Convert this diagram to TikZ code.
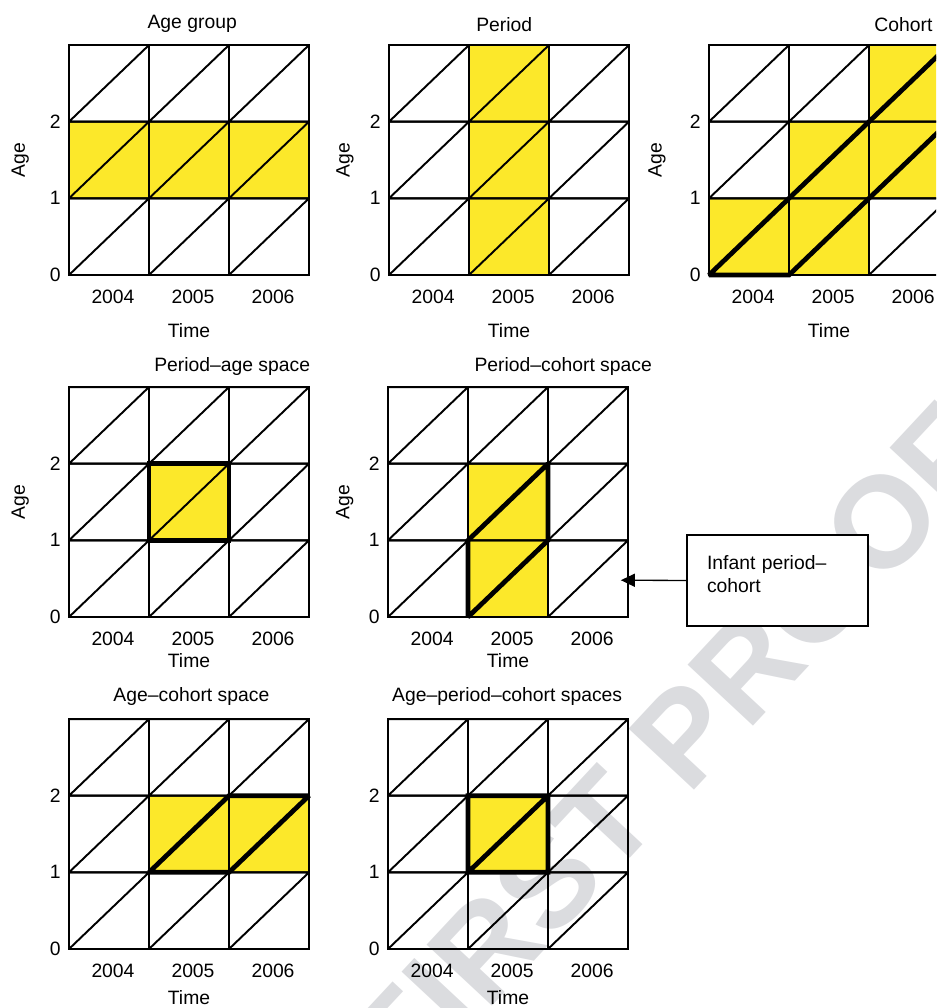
\documentclass[tikz,border=0pt]{standalone}
\usepackage{fontspec}
\setmainfont{Liberation Sans}
\usetikzlibrary{arrows.meta}

\definecolor{apcyellow}{RGB}{252,232,42}
\definecolor{proofgray}{RGB}{219,220,223}

% one Lexis grid (3 periods x 3 ages) with its axis labels
\newcommand{\lexisgrid}[2]{%
  \foreach \i in {0,1,2}
    \foreach \j in {0,1,2}
      \draw[gridline] (\i,\j) rectangle ++(1,1) (\i,\j) -- ++(1,1);
  \foreach \a in {0,1,2}
    \node[agetick] (#1-a\a) at (-0.1,\a) {\a};
  \foreach \y [count=\i from 0] in {2004,2005,2006}
    \node (#1-y\y) at (\i+0.55,-0.29) {\y};
  \node (#1-time) at (1.5,#2) {Time};
}

\begin{document}
\begin{tikzpicture}[every node/.style={font=\fontsize{11}{13}\selectfont},
  gridline/.style={line width=1.1pt},
  band/.style={fill=apcyellow},
  rim/.style={line width=2.7pt, line join=miter, miter limit=2},
  agetick/.style={anchor=east, inner sep=0pt},
  agelabel/.style={rotate=90},
  pointer/.style={-{Triangle[length=0.28cm,width=0.26cm]}, line width=0.75pt}]
  \useasboundingbox (0,0) rectangle (18.72,20.16);
  \clip (0,0) rectangle (18.72,20.16);

  \node[text=proofgray, rotate=47, font=\fontsize{74}{74}\selectfont\bfseries] (proof) at (13.46,5.22) {FIRST PROOF};

  % age group
  \begin{scope}[shift={(1.38cm,14.66cm)}, x=1.6cm, y=1.533cm]
    \fill[band] (0,1) rectangle (3,2);
    \lexisgrid{ag}{-0.72}
    \node (ag-title) at (1.54,3.27) {Age group};
    \node[agelabel] (ag-age) at (-0.61,1.5) {Age};
  \end{scope}

  % period
  \begin{scope}[shift={(7.78cm,14.66cm)}, x=1.6cm, y=1.533cm]
    \fill[band] (1,0) rectangle (2,3);
    \lexisgrid{pe}{-0.72}
    \node (pe-title) at (1.44,3.27) {Period};
    \node[agelabel] (pe-age) at (-0.55,1.5) {Age};
  \end{scope}

  % cohort
  \begin{scope}[shift={(14.18cm,14.66cm)}, x=1.6cm, y=1.533cm]
    \fill[band] (0,0) rectangle (1,1) (1,0) rectangle (2,2) (2,1) rectangle (3,3);
    \lexisgrid{co}{-0.72}
    \draw[rim] (3,3) -- (0,0) -- (1,0) -- (3,2);
    \node (co-title) at (2.43,3.27) {Cohort};
    \node[agelabel] (co-age) at (-0.65,1.5) {Age};
  \end{scope}

  % period-age
  \begin{scope}[shift={(1.38cm,7.82cm)}, x=1.6cm, y=1.533cm]
    \fill[band] (1,1) rectangle (2,2);
    \lexisgrid{pa}{-0.57}
    \draw[rim] (1,1) rectangle (2,2);
    \node (pa-title) at (2.04,3.27) {Period--age space};
    \node[agelabel] (pa-age) at (-0.61,1.5) {Age};
  \end{scope}

  % period-cohort
  \begin{scope}[shift={(7.76cm,7.82cm)}, x=1.6cm, y=1.533cm]
    \fill[band] (1,0) rectangle (2,2);
    \lexisgrid{pc}{-0.57}
    \draw[rim] (1,1) -- (1,0) -- (2,1) -- (2,2) -- cycle;
    \node (pc-title) at (2.19,3.27) {Period--cohort space};
    \node[agelabel] (pc-age) at (-0.54,1.5) {Age};
    \coordinate (pc-tip) at (2.91,0.48);
  \end{scope}

  \node[draw, fill=white, line width=0.8pt, align=left, text width=2.82cm,
        inner xsep=0.4cm, inner ysep=0pt, text height=0.7cm, text depth=1.12cm]
        (infant) at (15.55,8.55) {Infant period--\\cohort};
  \draw[pointer] (infant.west) -- (pc-tip);

  % age-cohort
  \begin{scope}[shift={(1.38cm,1.18cm)}, x=1.6cm, y=1.533cm]
    \fill[band] (1,1) rectangle (3,2);
    \lexisgrid{ac}{-0.64}
    \draw[rim] (1,1) -- (2,1) -- (3,2) -- (2,2) -- cycle;
    \node (ac-title) at (1.53,3.29) {Age--cohort space};
  \end{scope}

  % age-period-cohort
  \begin{scope}[shift={(7.76cm,1.18cm)}, x=1.6cm, y=1.533cm]
    \fill[band] (1,1) rectangle (2,2);
    \lexisgrid{apc}{-0.64}
    \draw[rim] (1,1) rectangle (2,2) (1,1) -- (2,2);
    \node (apc-title) at (1.49,3.29) {Age--period--cohort spaces};
  \end{scope}
\end{tikzpicture}
\end{document}
